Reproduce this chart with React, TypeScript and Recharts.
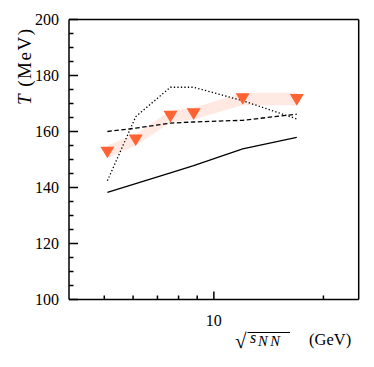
import React from "react";
import { ComposedChart, XAxis, YAxis, Line, Area, Scatter, ReferenceLine } from "recharts";

const energies = [5.1, 6.1, 7.6, 8.8, 12.0, 16.9];
const tMeasured = [152.5, 156.9, 165.3, 166.2, 171.6, 171.3];
const bandLow = [150.5, 155.0, 163.2, 164.3, 169.5, 169.4];
const bandHigh = [155.0, 159.0, 167.5, 168.5, 173.8, 173.8];
const solidModel = [138.3, 141.4, 145.2, 147.8, 153.8, 157.9];
const dottedModel = [142.4, 165.3, 175.8, 175.8, 171.0, 164.5];
const dashedModel = [160.0, 161.2, 163.0, 163.4, 164.0, 166.2];

const xTicks = [5, 6, 7, 8, 9, 10, 20];
const xLabeled = [10];
const yTicks = [100, 105, 110, 115, 120, 125, 130, 135, 140, 145, 150, 155, 160, 165, 170, 175, 180, 185, 190, 195, 200];
const yLabeled = [100, 120, 140, 160, 180, 200];

const data = energies.map((x, i) => ({
  x,
  t: tMeasured[i],
  band: [bandLow[i], bandHigh[i]],
  solid: solidModel[i],
  dotted: dottedModel[i],
  dashed: dashedModel[i],
}));

const FONT = "'Liberation Serif', 'DejaVu Serif', serif";
const MARK = "#ff6233";

const XTick = (props: any) => {
  const { x, y, payload } = props;
  const major = xLabeled.includes(payload.value);
  return (
    <g>
      <rect x={x - 0.75} y={y - (major ? 8 : 4)} width={1.5} height={major ? 8 : 4} fill="#000" />
      {major && (
        <text x={x} y={y + 26} textAnchor="middle" fontFamily={FONT} fontSize={16} fill="#000">
          {payload.value}
        </text>
      )}
    </g>
  );
};

const YTick = (props: any) => {
  const { x, y, payload } = props;
  const major = yLabeled.includes(payload.value);
  return (
    <g>
      <rect x={x} y={y - 0.75} width={major ? 9 : 4.5} height={1.5} fill="#000" />
      {major && (
        <text x={x - 10} y={y} textAnchor="end" dominantBaseline="central" fontFamily={FONT} fontSize={16} fill="#000">
          {payload.value}
        </text>
      )}
    </g>
  );
};

const TriangleDown = (props: any) => {
  const { cx, cy } = props;
  const w = 7, h = 5.8;
  return <path d={`M${cx - w},${cy - h} L${cx + w},${cy - h} L${cx},${cy + h} Z`} fill={MARK} />;
};

const YLabel = () => (
  <text transform="translate(16,59) rotate(-90)" textAnchor="middle" dominantBaseline="central" fontFamily={FONT} fontSize={19} fill="#000" textLength={76} lengthAdjust="spacing">
    <tspan fontStyle="italic">T</tspan> (MeV)
  </text>
);

const XLabel = () => (
  <g fontFamily={FONT} fill="#000">
    <text x={227} y={340} fontSize={21}>√</text>
    <line x1={239.5} x2={282} y1={324.5} y2={324.5} stroke="#000" strokeWidth={1} />
    <text x={242} y={335} fontSize={16} fontStyle="italic">s</text>
    <text x={250} y={338} fontSize={14.5} fontStyle="italic" letterSpacing={2.5}>NN</text>
    <text x={301} y={337} fontSize={16.5}>(GeV)</text>
  </g>
);

export default function App() {
  return (
    <ComposedChart
      width={366}
      height={359}
      data={data}
      margin={{ top: 11.5, right: 15.3, left: 11, bottom: 37.5 }}
    >
      <XAxis
        dataKey="x"
        type="number"
        scale="log"
        domain={[4, 25]}
        allowDataOverflow
        ticks={xTicks}
        interval={0}
        tick={<XTick />}
        tickLine={false}
        tickSize={0}
        tickMargin={0}
        height={30}
        axisLine={{ stroke: "#000", strokeWidth: 1.5 }}
        label={{ content: () => <XLabel /> }}
      />
      <YAxis
        type="number"
        domain={[100, 200]}
        allowDataOverflow
        ticks={yTicks}
        interval={0}
        tick={<YTick />}
        tickLine={false}
        tickSize={0}
        tickMargin={0}
        width={50}
        axisLine={{ stroke: "#000", strokeWidth: 1.5 }}
        label={{ content: () => <YLabel /> }}
      />
      <ReferenceLine x={25} stroke="#000" strokeWidth={1.5} />
      <ReferenceLine y={200} stroke="#000" strokeWidth={1.5} />
      <Area dataKey="band" type="linear" stroke="none" fill={MARK} fillOpacity={0.14} isAnimationActive={false} />
      <Line dataKey="solid" type="linear" stroke="#000" strokeWidth={1.3} dot={false} isAnimationActive={false} />
      <Line dataKey="dotted" type="linear" stroke="#000" strokeWidth={1.3} strokeDasharray="1.3 2.2" dot={false} isAnimationActive={false} />
      <Line dataKey="dashed" type="linear" stroke="#000" strokeWidth={1.3} strokeDasharray="4.5 2.5" dot={false} isAnimationActive={false} />
      <Scatter dataKey="t" shape={<TriangleDown />} isAnimationActive={false} />
    </ComposedChart>
  );
}
